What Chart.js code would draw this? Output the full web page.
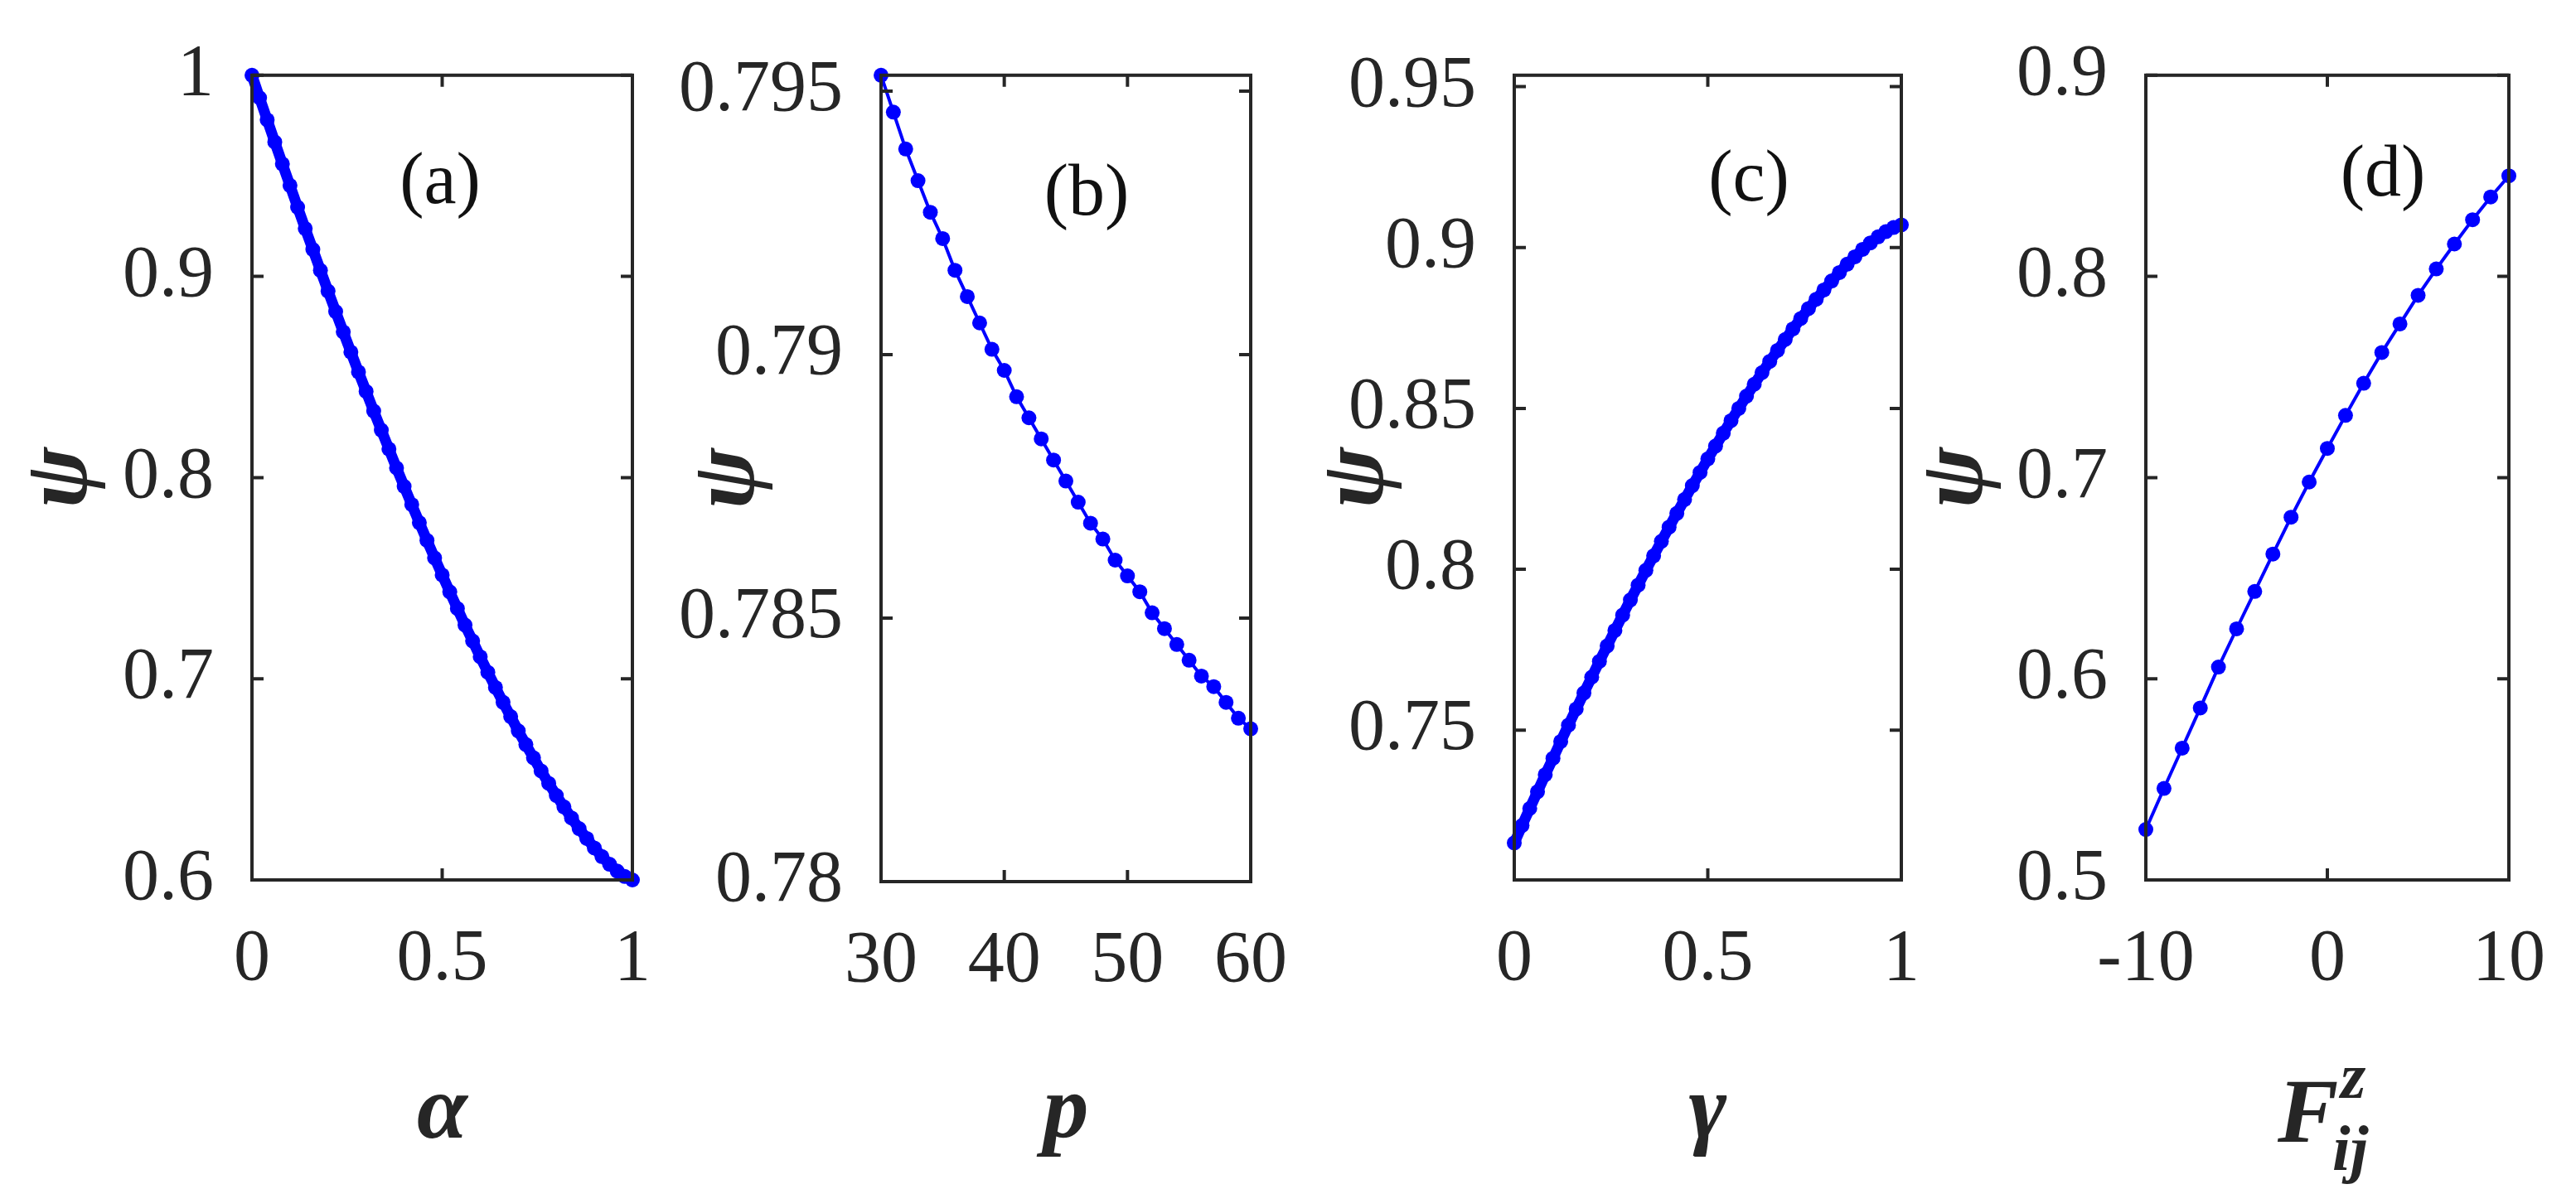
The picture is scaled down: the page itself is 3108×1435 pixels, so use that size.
<!DOCTYPE html>
<html><head><meta charset="utf-8">
<script src="https://cdn.jsdelivr.net/npm/chart.js@4.4.0/dist/chart.umd.min.js"></script>
<style>html,body{margin:0;padding:0;background:#fff;width:3108px;height:1435px;overflow:hidden;font-family:"Liberation Serif",serif}canvas{position:absolute;top:0}</style>
</head><body>
<canvas id="ca"></canvas><canvas id="cb"></canvas><canvas id="cc"></canvas><canvas id="cd"></canvas>
<script>
// ---- data ----
const alphaX = [0,0.02,0.04,0.06,0.08,0.1,0.12,0.14,0.16,0.18,0.2,0.22,0.24,0.26,0.28,0.3,0.32,0.34,0.36,0.38,0.4,0.42,0.44,0.46,0.48,0.5,0.52,0.54,0.56,0.58,0.6,0.62,0.64,0.66,0.68,0.7,0.72,0.74,0.76,0.78,0.8,0.82,0.84,0.86,0.88,0.9,0.92,0.94,0.96,0.98,1];
const psiA = [1.0000,.9888,.9778,.9668,.9559,.9452,.9344,.9238,.9134,.9030,.8927,.8825,.8724,.8624,.8525,.8428,.8331,.8236,.8142,.8048,.7956,.7866,.7776,.7688,.7601,.7516,.7432,.7349,.7267,.7188,.7109,.7032,.6957,.6883,.6812,.6741,.6673,.6607,.6542,.6480,.6420,.6363,.6308,.6255,.6206,.6159,.6116,.6078,.6044,.6017,.6000];
const pX = [30,31,32,33,34,35,36,37,38,39,40,41,42,43,44,45,46,47,48,49,50,51,52,53,54,55,56,57,58,59,60];
const psiB = [.7953,.7946,.7939,.7933,.7927,.7922,.7916,.7911,.7906,.7901,.7897,.7892,.7888,.7884,.7880,.7876,.7872,.7868,.7865,.7861,.7858,.7855,.7851,.7848,.7845,.7842,.7839,.7837,.7834,.7831,.7829];
const gammaX = [0,0.02,0.04,0.06,0.08,0.1,0.12,0.14,0.16,0.18,0.2,0.22,0.24,0.26,0.28,0.3,0.32,0.34,0.36,0.38,0.4,0.42,0.44,0.46,0.48,0.5,0.52,0.54,0.56,0.58,0.6,0.62,0.64,0.66,0.68,0.7,0.72,0.74,0.76,0.78,0.8,0.82,0.84,0.86,0.88,0.9,0.92,0.94,0.96,0.98,1];
const psiC = [.7150,.7204,.7257,.7309,.7362,.7413,.7465,.7516,.7566,.7616,.7665,.7714,.7762,.7810,.7858,.7905,.7951,.7997,.8042,.8087,.8131,.8174,.8217,.8260,.8301,.8343,.8383,.8423,.8462,.8500,.8538,.8575,.8611,.8646,.8680,.8714,.8747,.8779,.8810,.8839,.8868,.8896,.8922,.8948,.8971,.8994,.9014,.9033,.9049,.9062,.9070];
const fX = [-10,-9,-8,-7,-6,-5,-4,-3,-2,-1,0,1,2,3,4,5,6,7,8,9,10];
const psiD = [.5251,.5455,.5655,.5855,.6058,.6248,.6434,.6620,.6803,.6978,.7145,.7309,.7469,.7622,.7764,.7906,.8037,.8161,.8282,.8395,.8500];
const xTicksA = [0,0.5,1], yTicksA = [0.6,0.7,0.8,0.9,1];
const xTicksB = [30,40,50,60], yTicksB = [0.78,0.785,0.79,0.795];
const xTicksC = [0,0.5,1], yTicksC = [0.75,0.8,0.85,0.9,0.95];
const xTicksD = [-10,0,10], yTicksD = [0.5,0.6,0.7,0.8,0.9];

const W = 3108, H = 1435, LEFTBOX = 300, RIGHTPAD = 60;
const AX = '#262626', BLUE = '#0000ff';
const FONT = "'Liberation Serif', 'DejaVu Serif', serif";

function fmt(v){ return String(+v.toFixed(4)); }

function make(id, cfg){
  const plotW = cfg.right - cfg.left;
  const cw = plotW + LEFTBOX + RIGHTPAD;
  const el = document.getElementById(id);
  el.style.left = (cfg.left - LEFTBOX) + 'px';
  el.style.width = cw + 'px'; el.style.height = H + 'px';
  el.width = cw; el.height = H;
  const deco = {
    id: 'deco',
    afterDraw(chart){
      const ctx = chart.ctx, a = chart.chartArea;
      const xs = chart.scales.x, ys = chart.scales.y;
      ctx.save();
      ctx.strokeStyle = AX; ctx.lineWidth = 4;
      ctx.strokeRect(a.left, a.top, a.right - a.left, a.bottom - a.top);
      ctx.beginPath();
      const TL = 14;
      cfg.xt.forEach(v => { const px = xs.getPixelForValue(v);
        ctx.moveTo(px, a.bottom); ctx.lineTo(px, a.bottom - TL);
        ctx.moveTo(px, a.top); ctx.lineTo(px, a.top + TL); });
      cfg.yt.forEach(v => { const py = ys.getPixelForValue(v);
        ctx.moveTo(a.left, py); ctx.lineTo(a.left + TL, py);
        ctx.moveTo(a.right, py); ctx.lineTo(a.right - TL, py); });
      ctx.stroke();
      ctx.fillStyle = '#111';
      ctx.font = '88px ' + FONT; ctx.textAlign = 'center'; ctx.textBaseline = 'middle';
      ctx.fillText(cfg.tag, cfg.tagX - (cfg.left - LEFTBOX), cfg.tagY);
      ctx.save();
      ctx.translate(a.left - cfg.psiOff, (a.top + a.bottom) / 2);
      ctx.rotate(-Math.PI / 2);
      ctx.font = 'italic bold 110px ' + FONT; ctx.fillStyle = AX;
      ctx.fillText('ψ', 0, 0);
      ctx.restore();
      const cx = (a.left + a.right) / 2 + (cfg.xtOff || 0);
      ctx.fillStyle = AX;
      if (cfg.xtitle === 'F') {
        ctx.font = 'italic bold 110px ' + FONT; ctx.textAlign = 'left';
        ctx.fillText('F', cx - 60, 1350);
        ctx.font = 'italic bold 78px ' + FONT;
        ctx.fillText('z', cx + 16, 1305);
        ctx.fillText('ij', cx + 6, 1392);
      } else {
        ctx.font = 'italic bold 110px ' + FONT; ctx.textAlign = 'center';
        ctx.fillText(cfg.xtitle, cx, 1345);
      }
      ctx.restore();
    }
  };
  new Chart(el, {
    type: 'line',
    data: { datasets: [{ data: cfg.xs.map((x, i) => ({x: x, y: cfg.ys[i]})),
      borderColor: BLUE, backgroundColor: BLUE, borderWidth: cfg.lw,
      pointRadius: cfg.r, pointBorderWidth: 0, pointBackgroundColor: BLUE, tension: 0 }] },
    options: {
      responsive: false, animation: false, devicePixelRatio: 1,
      plugins: { legend: {display: false}, tooltip: {enabled: false} },
      layout: { autoPadding: false, padding: { top: cfg.top, right: RIGHTPAD, left: 0, bottom: 0 } },
      clip: false,
      scales: {
        x: { type: 'linear', min: cfg.xmin, max: cfg.xmax,
          grid: {display: false}, border: {display: false},
          afterFit(s){ s.height = H - cfg.bottom; },
          afterBuildTicks(s){ s.ticks = cfg.xt.map(v => ({value: v})); },
          ticks: { color: AX, font: {family: FONT, size: 88}, padding: 36, maxRotation: 0,
            autoSkip: false, callback: v => fmt(v) } },
        y: { type: 'linear', min: cfg.ymin, max: cfg.ymax,
          grid: {display: false}, border: {display: false},
          afterFit(s){ s.width = LEFTBOX; },
          afterBuildTicks(s){ s.ticks = cfg.yt.map(v => ({value: v})); },
          ticks: { color: AX, font: {family: FONT, size: 88}, padding: 38,
            autoSkip: false, callback: v => fmt(v) } }
      }
    },
    plugins: [deco]
  });
}

function drawAll(){
make('ca', {left: 304, right: 763, top: 46, bottom: 1062, xs: alphaX, ys: psiA, xmin: 0, xmax: 1, ymin: 0.6, ymax: 1,
  xt: xTicksA, yt: yTicksA, r: 9, lw: 13, tag: '(a)', tagX: 531, tagY: 222, psiOff: 228, xtitle: 'α'});
make('cb', {left: 1063, right: 1529, top: 44, bottom: 1064, xs: pX, ys: psiB, xmin: 30, xmax: 60, ymin: 0.78, ymax: 0.7953,
  xt: xTicksB, yt: yTicksB, r: 9, lw: 4, tag: '(b)', tagX: 1311, tagY: 236, psiOff: 182, xtitle: 'p'});
make('cc', {left: 1827, right: 2294, top: 44, bottom: 1062, xs: gammaX, ys: psiC, xmin: 0, xmax: 1, ymin: 0.7035, ymax: 0.9535,
  xt: xTicksC, yt: yTicksC, r: 9, lw: 13, tag: '(c)', tagX: 2110, tagY: 219, psiOff: 187, xtitle: 'γ'});
make('cd', {left: 2589, right: 3047, top: 50, bottom: 1062, xs: fX, ys: psiD, xmin: -10, xmax: 10, ymin: 0.5, ymax: 0.9,
  xt: xTicksD, yt: yTicksD, r: 9, lw: 4, tag: '(d)', tagX: 2875, tagY: 213, psiOff: 226, xtitle: 'F'});
}
Promise.all([
  document.fonts.load("88px 'Liberation Serif'"),
  document.fonts.load("italic bold 110px 'Liberation Serif'")
]).then(drawAll, drawAll);
</script>
</body></html>
